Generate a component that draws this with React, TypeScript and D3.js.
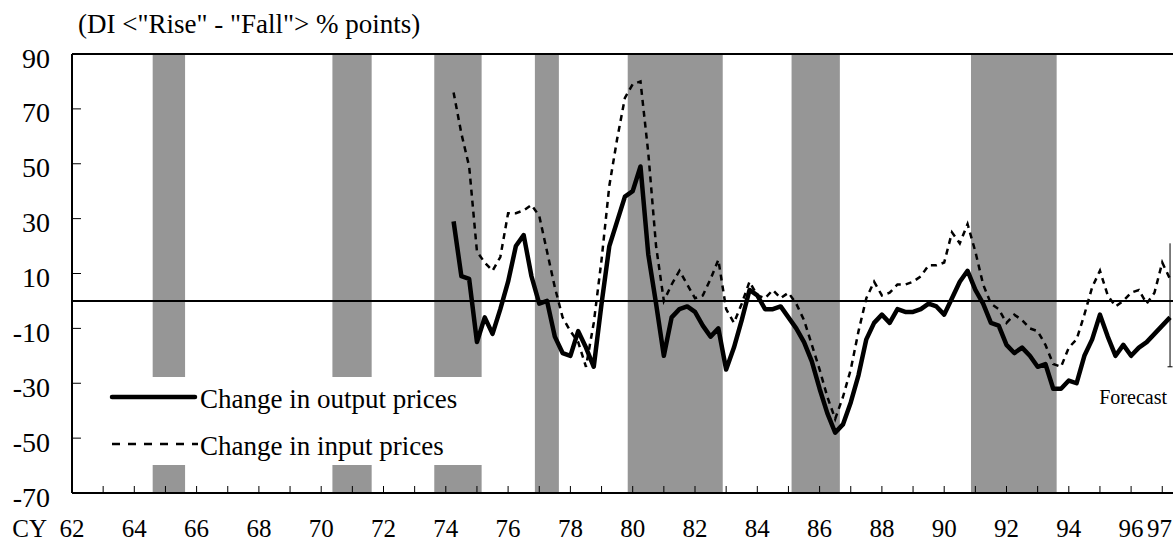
import * as d3 from "d3";

const WIDTH = 1173;
const HEIGHT = 542;
const PLOT = { left: 72, top: 54, bottom: 493, pxPerYear: 31.15 };
const FONT = "'Liberation Serif', 'Times New Roman', serif";

// quarterly Tankan DI, first survey plotted at CY 74 Q2, last point is the forecast
const FIRST_PERIOD = 74.25;

const outputPrices = [
  29, 9, 8, -15, -6, -12, -3, 7, 20, 24, 9, -1, 0, -13, -19, -20, -11, -17, -24, -1,
  20, 29, 38, 40, 49, 17, -1, -20, -6, -3, -2, -4, -9, -13, -10, -25, -17, -7, 4, 2,
  -3, -3, -2, -6, -10, -15, -22, -32, -41, -48, -45, -37, -27, -14, -8, -5, -8, -3, -4, -4,
  -3, -1, -2, -5, 1, 7, 11, 4, -1, -8, -9, -16, -19, -17, -20, -24, -23, -32, -32, -29,
  -30, -20, -14, -5, -13, -20, -16, -20, -17, -15, -12, -9, -6,
];

const inputPrices = [
  76, 61, 49, 18, 14, 11, 16, 32, 32, 33, 35, 31, 18, 5, -6, -11, -15, -24, -8, 15,
  42, 59, 74, 79, 80, 54, 20, 0, 6, 11, 6, 1, 2, 8, 15, -3, -8, -1, 7, 2,
  1, 4, 1, 3, -1, -7, -16, -25, -35, -43, -35, -25, -11, 1, 7, 2, 3, 6, 6, 7,
  9, 13, 13, 14, 25, 21, 28, 18, 6, -1, -3, -8, -5, -7, -10, -11, -16, -23, -24, -17,
  -14, -5, 5, 11, 2, -2, 0, 3, 4, -1, 3, 14, 8,
];

// recession shading (start, end) in calendar years
const recessions: [number, number][] = [
  [64.59, 65.63],
  [70.36, 71.62],
  [73.63, 75.15],
  [76.86, 77.63],
  [79.84, 82.89],
  [85.1, 86.65],
  [90.86, 93.61],
];

const yTicks = [90, 70, 50, 30, 10, -10, -30, -50, -70];
const xLabels = [62, 64, 66, 68, 70, 72, 74, 76, 78, 80, 82, 84, 86, 88, 90, 92, 94, 96];
const lastLabel = 97;
const forecastRange: [number, number] = [21, -24];

const App = () => {
  const periods = d3.range(outputPrices.length).map((i) => FIRST_PERIOD + i * 0.25);
  const xScale = d3
    .scaleLinear()
    .domain([62, 98])
    .range([PLOT.left, PLOT.left + 36 * PLOT.pxPerYear]);
  const yScale = d3.scaleLinear().domain([-70, 90]).range([PLOT.bottom, PLOT.top]);
  const right = xScale(98);

  const line = d3
    .line<number>()
    .x((_, i) => xScale(periods[i]))
    .y((d) => yScale(d));

  const yearTicks = d3.range(63, 99);
  const lastX = xScale(periods[periods.length - 1]);

  return (
    <div style={{ position: "absolute", left: 0, top: 0 }}>
      <svg width={WIDTH} height={HEIGHT} style={{ display: "block", background: "white" }} fontFamily={FONT}>
        {/* recession bands */}
        {recessions.map(([a, b], i) => (
          <rect
            key={i}
            x={xScale(a)}
            y={PLOT.top}
            width={xScale(b) - xScale(a)}
            height={PLOT.bottom - PLOT.top}
            fill="#969696"
          />
        ))}
        {/* legend background */}
        <rect x={86} y={377} width={414} height={88} fill="white" />

        {/* zero line */}
        <line x1={PLOT.left} x2={right} y1={yScale(0)} y2={yScale(0)} stroke="black" strokeWidth={2} />

        <path d={line(inputPrices) ?? ""} fill="none" stroke="black" strokeWidth={2.5} strokeDasharray="6,5" />
        <path d={line(outputPrices) ?? ""} fill="none" stroke="black" strokeWidth={4.5} strokeLinejoin="round" />

        {/* forecast marker */}
        <line x1={lastX} x2={lastX} y1={yScale(forecastRange[0])} y2={yScale(forecastRange[1])} stroke="black" strokeWidth={1} />
        <line x1={lastX - 2.5} x2={lastX + 2.5} y1={yScale(forecastRange[1])} y2={yScale(forecastRange[1])} stroke="black" strokeWidth={1} />
        <text x={1167} y={404} fontSize={20} textAnchor="end">
          Forecast
        </text>

        {/* frame */}
        <line x1={PLOT.left} x2={right} y1={PLOT.top} y2={PLOT.top} stroke="black" strokeWidth={2} />
        <line x1={PLOT.left} x2={right} y1={PLOT.bottom} y2={PLOT.bottom} stroke="black" strokeWidth={2} />
        <line x1={PLOT.left} x2={PLOT.left} y1={PLOT.top} y2={PLOT.bottom} stroke="black" strokeWidth={2} />

        {/* y ticks + labels */}
        {yTicks.map((t) => (
          <g key={t}>
            <line x1={PLOT.left} x2={PLOT.left + 9} y1={yScale(t)} y2={yScale(t)} stroke="black" strokeWidth={1} />
            <text x={50} y={yScale(t) + 13.5} fontSize={28} textAnchor="end">
              {t}
            </text>
          </g>
        ))}

        {/* x ticks + labels */}
        {yearTicks.map((yr) => (
          <line key={yr} x1={xScale(yr)} x2={xScale(yr)} y1={PLOT.bottom} y2={PLOT.bottom - 7} stroke="black" strokeWidth={1} />
        ))}
        {xLabels.map((yr) => (
          <text key={yr} x={xScale(yr)} y={537} fontSize={25} textAnchor="middle">
            {yr}
          </text>
        ))}
        <text x={WIDTH - 1} y={537} fontSize={25} textAnchor="end">
          {lastLabel}
        </text>
        <text x={47} y={537} fontSize={25} textAnchor="end">
          CY
        </text>

        {/* unit header */}
        <text x={78} y={33} fontSize={27}>
          (DI &lt;"Rise" - "Fall"&gt; % points)
        </text>

        {/* legend */}
        <line x1={112} x2={195} y1={397} y2={397} stroke="black" strokeWidth={4.5} strokeLinecap="round" />
        <text x={200} y={408} fontSize={27}>
          Change in output prices
        </text>
        <line x1={112} x2={198} y1={444} y2={444} stroke="black" strokeWidth={2.5} strokeDasharray="8,8" />
        <text x={200} y={455} fontSize={27}>
          Change in input prices
        </text>
      </svg>
    </div>
  );
};

export default App;
